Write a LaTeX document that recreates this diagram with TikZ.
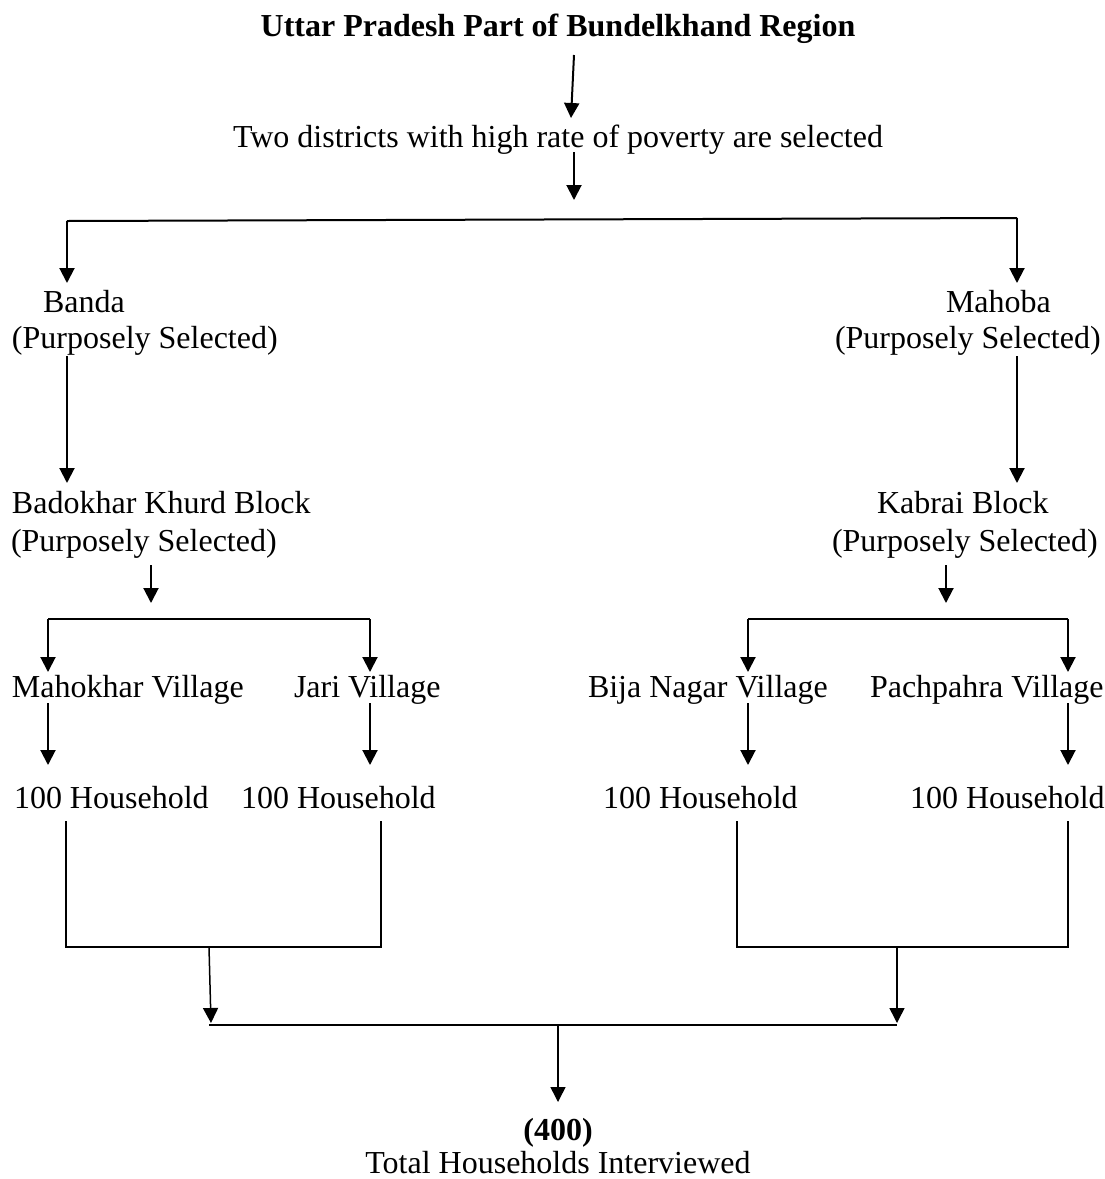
\documentclass[tikz,border=0pt]{standalone}
\usepackage{fontspec}
\setmainfont{Liberation Serif}
\usetikzlibrary{arrows.meta}
\begin{document}
\begin{tikzpicture}[x=1pt,y=-1pt,
  txt/.style={inner sep=0pt,outer sep=0pt,anchor=base west,font=\fontsize{32}{37}\selectfont},
  ctxt/.style={txt,anchor=base},
  arr/.style={line width=2pt,-{Triangle[width=15pt,length=15pt]}},
  ln/.style={line width=2pt},
  thin/.style={line width=1.5pt}]
\useasboundingbox (0,0) rectangle (1105,1179);
% texts
\node[ctxt,font=\fontsize{32}{37}\selectfont\bfseries] (title) at (558,36) {Uttar Pradesh Part of Bundelkhand Region};
\node[ctxt] (two) at (558,147) {Two districts with high rate of poverty are selected};
\node[txt] (banda) at (43,312) {Banda};
\node[txt] (bandaP) at (12,348) {(Purposely Selected)};
\node[txt] (mahoba) at (946,312) {Mahoba};
\node[txt] (mahobaP) at (835,348) {(Purposely Selected)};
\node[txt] (badokhar) at (12,513) {Badokhar Khurd Block};
\node[txt] (badokharP) at (11,551) {(Purposely Selected)};
\node[txt] (kabrai) at (877,513) {Kabrai Block};
\node[txt] (kabraiP) at (832,551) {(Purposely Selected)};
\node[txt] (mahokhar) at (12,697) {Mahokhar Village};
\node[txt] (jari) at (294,697) {Jari Village};
\node[txt] (bija) at (588,697) {Bija Nagar Village};
\node[txt] (pach) at (870,697) {Pachpahra Village};
\node[txt] (h1) at (14,808) {100 Household};
\node[txt] (h2) at (241,808) {100 Household};
\node[txt] (h3) at (603,808) {100 Household};
\node[txt] (h4) at (910,808) {100 Household};
\node[ctxt,font=\fontsize{32}{37}\selectfont\bfseries] (total) at (558,1140) {(400)};
\node[ctxt] (totalT) at (558,1173) {Total Households Interviewed};
% coordinates
\coordinate (a1s) at (574,55);  \coordinate (a1e) at (571,118);
\coordinate (a2s) at (574,152); \coordinate (a2e) at (574,200);
\coordinate (tl) at (67,221);   \coordinate (tr) at (1017,218);
\coordinate (bandaT) at (67,283); \coordinate (mahobaT) at (1017,283);
\coordinate (bs) at (67,356);   \coordinate (be) at (67,483);
\coordinate (ms) at (1017,356); \coordinate (me) at (1017,483);
\coordinate (ls) at (151,565);  \coordinate (le) at (151,603);
\coordinate (rs) at (946,565);  \coordinate (re) at (946,603);
\coordinate (lbl) at (48,619);  \coordinate (lbr) at (370,619);
\coordinate (rbl) at (748,619); \coordinate (rbr) at (1068,619);
\coordinate (lh1) at (66,821);  \coordinate (lh2) at (381,821);
\coordinate (rh1) at (737,821); \coordinate (rh2) at (1068,821);
\coordinate (lj) at (209,947);  \coordinate (rj) at (897,947);
\coordinate (ljt) at (211,1023); \coordinate (rjt) at (897,1023);
\coordinate (bl) at (209,1025); \coordinate (br) at (897,1025); \coordinate (bm) at (558,1025);
\coordinate (bt) at (558,1102);
% connectors
\draw[arr] (a1s) -- (a1e);
\draw[arr] (a2s) -- (a2e);
\draw[ln] (tl) -- (tr);
\draw[arr] (tl) -- (bandaT);
\draw[arr] (tr) -- (mahobaT);
\draw[arr] (bs) -- (be);
\draw[arr] (ms) -- (me);
\draw[arr] (ls) -- (le);
\draw[arr] (rs) -- (re);
\draw[ln] (lbl) -- (lbr);
\draw[ln] (rbl) -- (rbr);
\draw[arr] (lbl) -- (lbl |- 0,672);
\draw[arr] (lbr) -- (lbr |- 0,672);
\draw[arr] (rbl) -- (rbl |- 0,672);
\draw[arr] (rbr) -- (rbr |- 0,672);
\draw[arr] (48,703) -- (48,765);
\draw[arr] (370,703) -- (370,765);
\draw[arr] (748,703) -- (748,765);
\draw[arr] (1068,703) -- (1068,765);
\draw[thin] (lh1) -- (lh1 |- lj) -- (lh2 |- lj) -- (lh2);
\draw[thin] (rh1) -- (rh1 |- rj) -- (rh2 |- rj) -- (rh2);
\draw[arr,line width=1.5pt] (lj) -- (ljt);
\draw[arr,line width=1.5pt] (rj) -- (rjt);
\draw[thin] (bl) -- (br);
\draw[arr,line width=1.5pt] (bm) -- (bt);
\end{tikzpicture}
\end{document}
